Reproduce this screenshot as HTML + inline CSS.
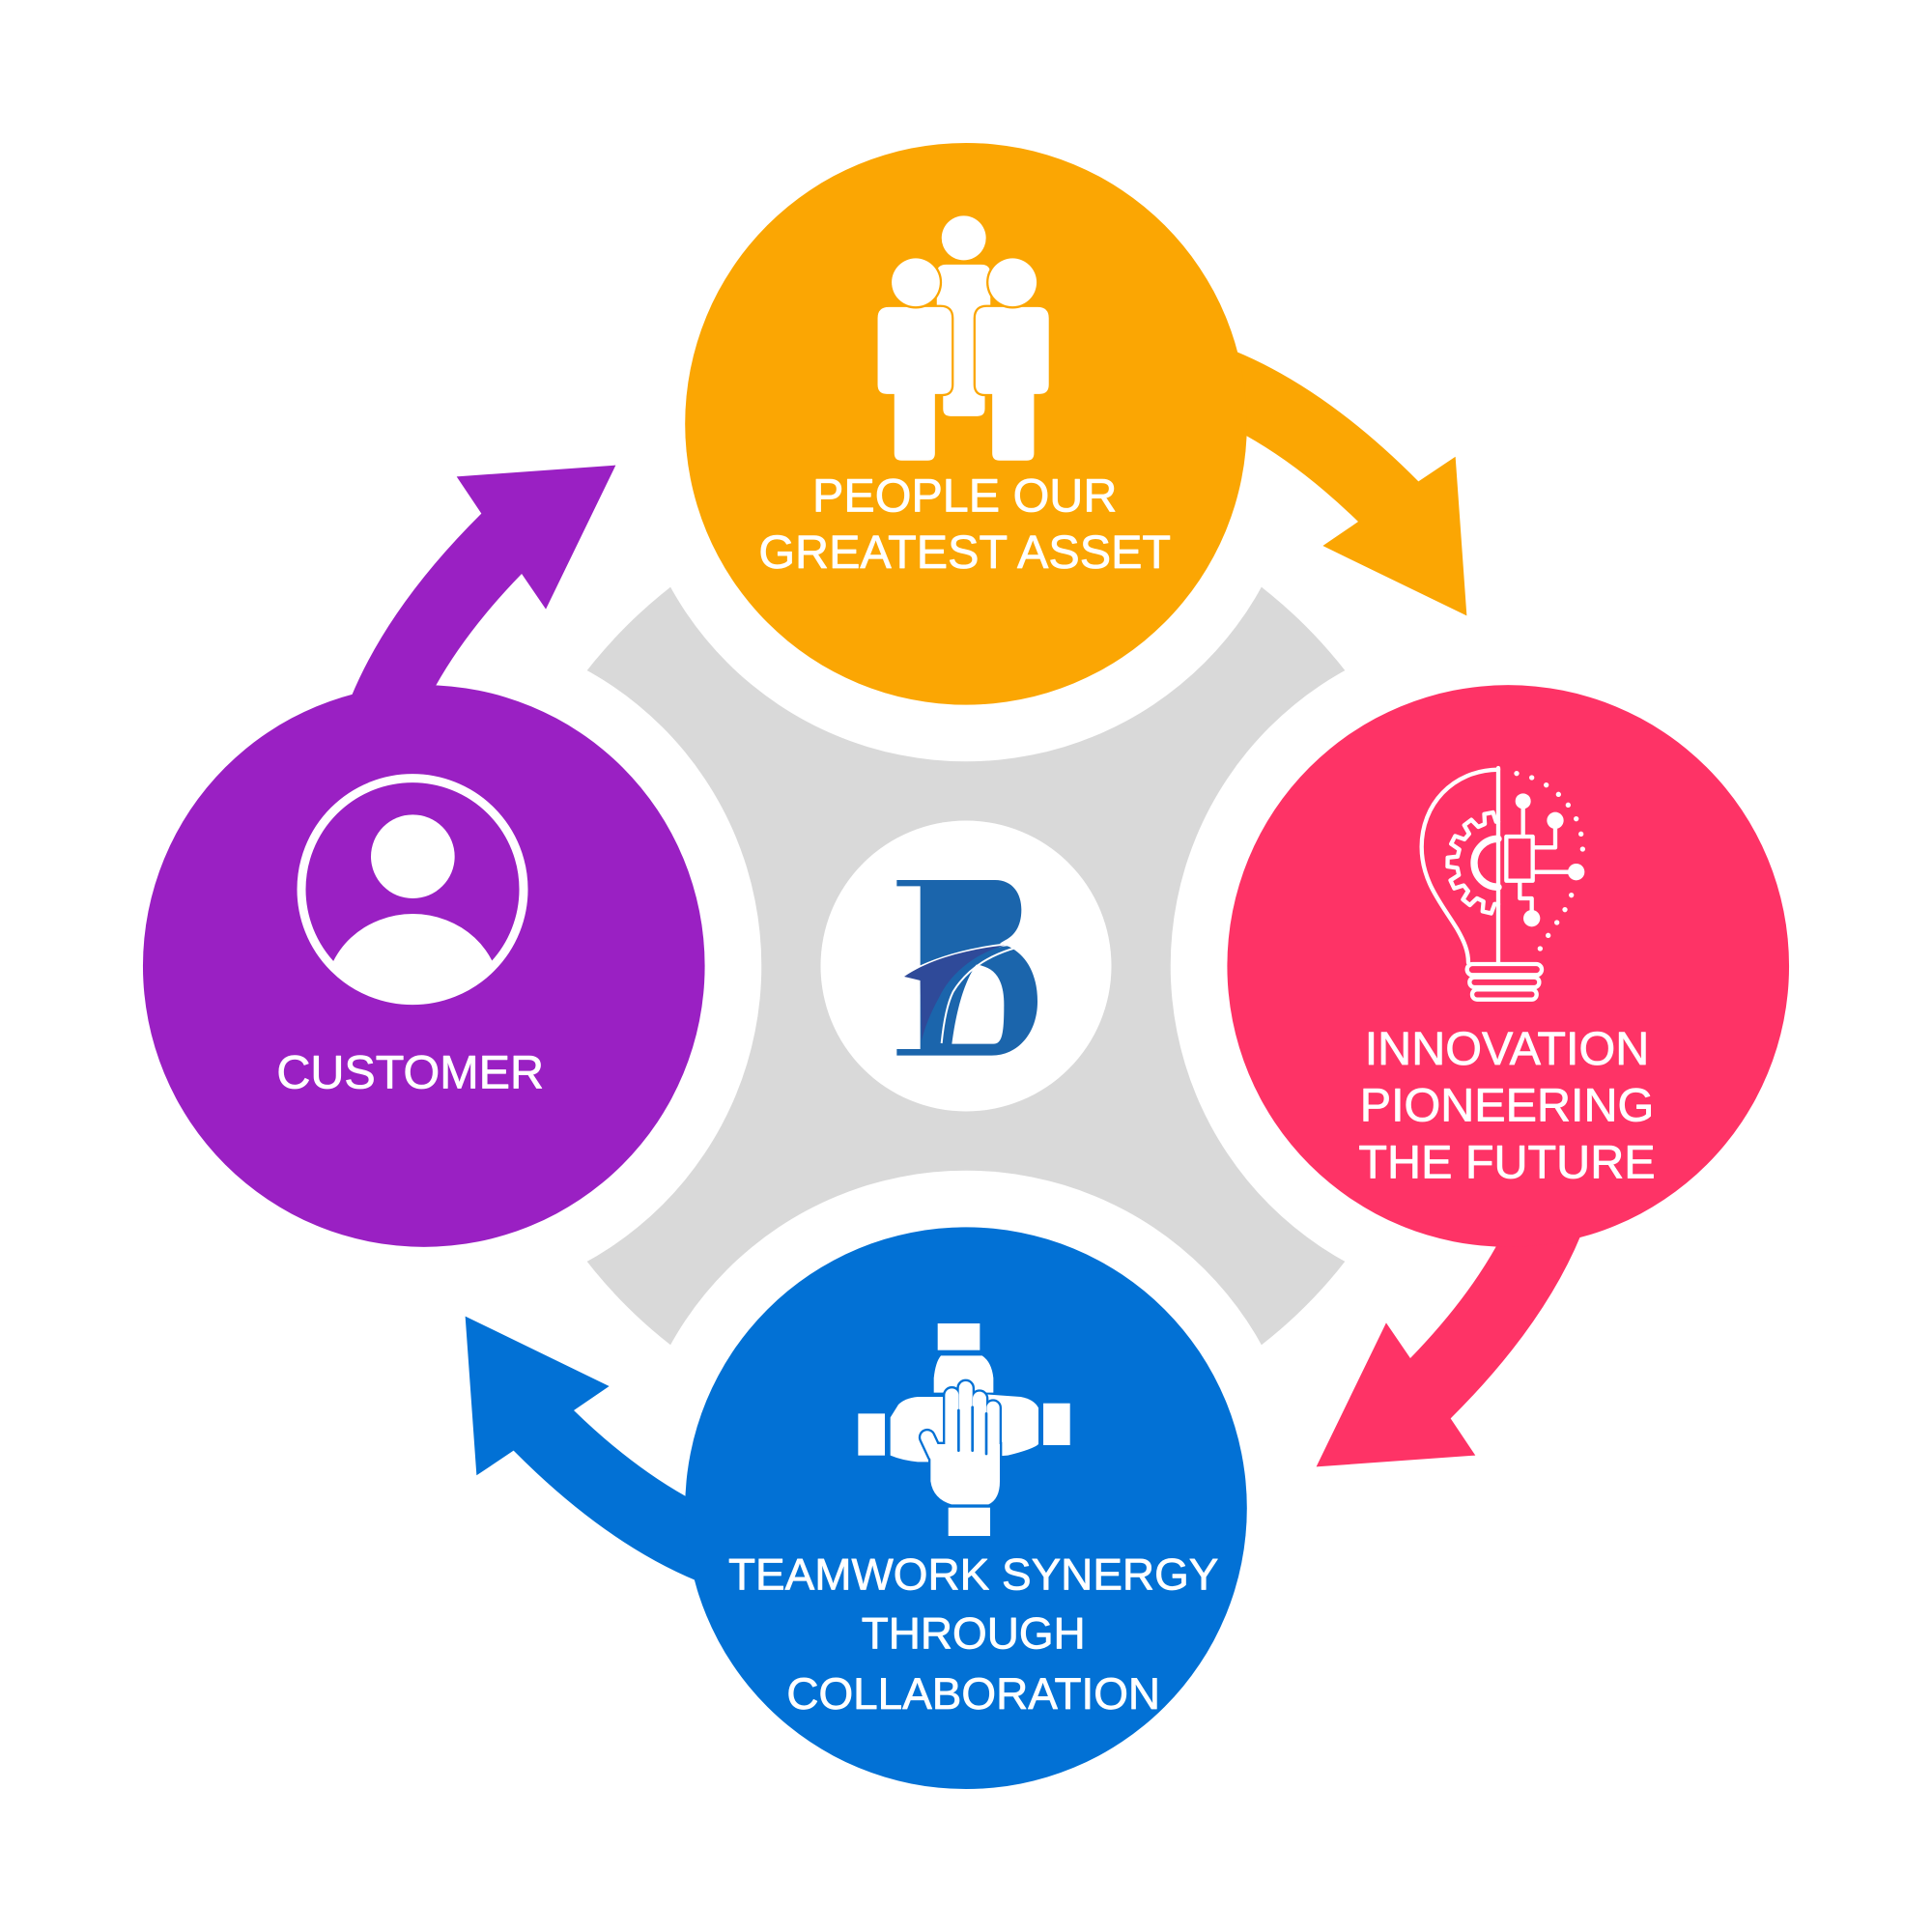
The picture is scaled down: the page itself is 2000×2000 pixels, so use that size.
<!DOCTYPE html>
<html>
<head>
<meta charset="utf-8">
<style>
html,body{margin:0;padding:0;background:#fff;}
.wrap{position:relative;width:2000px;height:2000px;}
svg{display:block;position:absolute;left:0;top:0;}
</style>
</head>
<body>
<div class="wrap">
<svg width="2000" height="2000" viewBox="0 0 1568 1568" xmlns="http://www.w3.org/2000/svg">
  <rect width="1568" height="1568" fill="#ffffff"/>

  <!-- gray background cross -->
  <circle cx="784" cy="784" r="390" fill="#D9D9D9"/>
  <g fill="#ffffff">
    <circle cx="784" cy="344" r="274"/>
    <circle cx="1224" cy="784" r="274"/>
    <circle cx="784" cy="1224" r="274"/>
    <circle cx="344" cy="784" r="274"/>
    <circle cx="784" cy="784" r="118"/>
  </g>

  <!-- arrows -->
  <path fill="#FBA603" d="M 985 280 L 1002.2 284.9 Q 1076.7 315.6 1151.2 390.7 L 1181.2 370.6 L 1190.4 499.7 L 1073.6 443.0 L 1102.3 423.4 Q 1056.6 378.9 1010.9 353.3 L 990 352 Z"/>
  <path fill="#FE3366" transform="rotate(90 784 784)" d="M 985 280 L 1002.2 284.9 Q 1076.7 315.6 1151.2 390.7 L 1181.2 370.6 L 1190.4 499.7 L 1073.6 443.0 L 1102.3 423.4 Q 1056.6 378.9 1010.9 353.3 L 990 352 Z"/>
  <path fill="#0271D5" transform="rotate(180 784 784)" d="M 985 280 L 1002.2 284.9 Q 1076.7 315.6 1151.2 390.7 L 1181.2 370.6 L 1190.4 499.7 L 1073.6 443.0 L 1102.3 423.4 Q 1056.6 378.9 1010.9 353.3 L 990 352 Z"/>
  <path fill="#9A20C3" transform="rotate(270 784 784)" d="M 985 280 L 1002.2 284.9 Q 1076.7 315.6 1151.2 390.7 L 1181.2 370.6 L 1190.4 499.7 L 1073.6 443.0 L 1102.3 423.4 Q 1056.6 378.9 1010.9 353.3 L 990 352 Z"/>

  <!-- main circles -->
  <circle cx="784" cy="344" r="228" fill="#FBA603"/>
  <circle cx="1224" cy="784" r="228" fill="#FE3366"/>
  <circle cx="784" cy="1224" r="228" fill="#0271D5"/>
  <circle cx="344" cy="784" r="228" fill="#9A20C3"/>

  <!-- center logo -->
  <g transform="translate(627.2,627.2) scale(0.26134)">
    <path fill="#1B65AC" d="M 385 333 L 690 333 C 745 333 772 375 772 425 C 772 480 748 508 718 522 L 705 530 C 778 548 822 615 822 710 C 822 810 760 878 680 878 L 385 878 L 385 858 L 458 858 L 458 352 L 385 352 Z"/>
    <path fill="#ffffff" d="M 632 596 C 600 640 572 720 556 842 L 685 842 C 712 842 718 810 718 720 C 718 645 692 603 632 596 Z"/>
    <path fill="none" stroke="#ffffff" stroke-width="9" d="M 400 634 C 500 572 650 532 826 526"/>
    <path fill="#2F4A99" d="M 408 633 C 485 580 600 548 720 536 C 625 562 550 625 515 700 C 490 745 472 790 462 832 L 458 645 L 438 640 Z"/>
    <path fill="none" stroke="#ffffff" stroke-width="6" d="M 826 528 C 700 548 612 595 560 680 C 540 720 530 780 524 840"/>
  </g>

  <!-- people icon (orange) -->
  <g transform="translate(548.8,109.76) scale(0.3)">
    <path fill="#ffffff" d="M 730 350 L 825 350 Q 850 350 850 375 L 850 700 L 835 700 L 835 740 Q 835 760 815 760 L 742 760 Q 722 760 722 740 L 722 700 L 705 700 L 705 375 Q 705 350 730 350 Z"/>
    <circle cx="778" cy="278" r="60" fill="#ffffff"/>
    <g fill="#ffffff" stroke="#FBA603" stroke-width="12" paint-order="stroke fill">
      <path d="M 575 465 L 715 465 Q 745 465 745 495 L 745 675 Q 745 700 720 700 L 700 700 L 700 860 Q 700 880 680 880 L 610 880 Q 590 880 590 860 L 590 700 L 570 700 Q 545 700 545 675 L 545 495 Q 545 465 575 465 Z"/>
      <path d="M 840 465 L 978 465 Q 1008 465 1008 495 L 1008 675 Q 1008 700 983 700 L 968 700 L 968 860 Q 968 880 948 880 L 875 880 Q 855 880 855 860 L 855 700 L 835 700 Q 810 700 810 675 L 810 495 Q 810 465 840 465 Z"/>
      <circle cx="648" cy="398" r="65"/>
      <circle cx="910" cy="398" r="65"/>
    </g>
  </g>

  <!-- lightbulb icon (pink) -->
  <g transform="translate(1128.96,611.52) scale(0.26134)" stroke-linecap="round" stroke-linejoin="round">
    <g fill="none" stroke="#ffffff" stroke-width="13">
      <path d="M 333 50 C 190 52 95 160 95 290 C 95 400 160 470 205 545 C 228 585 240 615 240 650"/>
      <path d="M 333 45 L 333 648"/>
      <path d="M 333 468 L 321.8 467.5 L 311 496.5 L 284.2 490.3 L 287.1 459.5 L 267.1 449.7 L 244.6 471 L 223.2 453.6 L 239.4 427.3 L 225.6 409.7 L 196.2 419 L 184.5 394 L 210.6 377.4 L 206 355.6 L 175.4 351 L 175.9 323.5 L 206.6 320 L 212 298.3 L 186.5 280.8 L 199 256.3 L 228.1 266.6 L 242.5 249.5 L 227.3 222.6 L 249.3 206 L 270.9 228.1 L 291.3 219 L 289.5 188.1 L 316.5 182.9 L 326.3 212.2 L 333 212"/>
      <rect x="358" y="258" width="82" height="137"/>
      <path d="M 410 170 L 410 258"/>
      <path d="M 510 233 L 510 292 L 440 292"/>
      <path d="M 440 368 L 552 368"/>
      <path d="M 400 395 L 400 450 L 437 450 L 437 490"/>
      <rect x="236" y="654" width="232" height="34" rx="17"/>
      <rect x="244" y="695" width="216" height="31" rx="15"/>
      <rect x="252" y="733" width="200" height="31" rx="15"/>
    </g>
    <path d="M 333 265 A 75 75 0 0 0 333 415" fill="none" stroke="#ffffff" stroke-width="22"/>
    <g fill="#ffffff">
      <circle cx="410" cy="148" r="24"/>
      <circle cx="510" cy="208" r="26"/>
      <circle cx="575" cy="368" r="26"/>
      <circle cx="437" cy="512" r="26"/>
      <circle cx="390" cy="62" r="8"/>
      <circle cx="437" cy="75" r="8"/>
      <circle cx="482" cy="98" r="8"/>
      <circle cx="520" cy="127" r="8"/>
      <circle cx="550" cy="160" r="8"/>
      <circle cx="575" cy="203" r="8"/>
      <circle cx="590" cy="250" r="8"/>
      <circle cx="595" cy="297" r="8"/>
      <circle cx="560" cy="440" r="8"/>
      <circle cx="540" cy="485" r="8"/>
      <circle cx="515" cy="525" r="8"/>
      <circle cx="488" cy="565" r="8"/>
      <circle cx="463" cy="606" r="8"/>
    </g>
  </g>

  <!-- hands icon (blue) -->
  <g transform="translate(682.09,1066.25) scale(0.26134)">
    <g fill="#ffffff">
      <rect x="302" y="30" width="131" height="83"/>
      <path d="M 312 130 L 440 130 Q 470 150 475 200 L 475 245 L 290 245 L 290 200 Q 295 150 312 130 Z"/>
      <rect x="55" y="310" width="83" height="130"/>
      <path d="M 155 322 L 180 282 Q 200 262 240 258 L 330 258 L 330 460 L 240 460 Q 190 455 155 440 Z"/>
      <rect x="630" y="278" width="83" height="130"/>
      <path d="M 615 292 Q 600 265 560 258 L 450 250 L 450 445 L 520 440 Q 600 420 615 405 Z"/>
      <rect x="335" y="602" width="130" height="88"/>
    </g>
    <g fill="#ffffff" stroke="#0271D5" stroke-width="14">
      <rect x="262" y="360" width="40" height="100" rx="20" transform="rotate(-25 284 410)"/>
      <rect x="325" y="232" width="42" height="220" rx="21"/>
      <rect x="368" y="210" width="42" height="240" rx="21"/>
      <rect x="411" y="242" width="42" height="210" rx="21"/>
      <rect x="454" y="272" width="40" height="200" rx="20"/>
      <path d="M 280 405 L 495 405 L 495 520 Q 495 575 460 592 L 345 592 Q 288 575 280 520 Z"/>
    </g>
    <g fill="#ffffff">
      <rect x="262" y="360" width="40" height="100" rx="20" transform="rotate(-25 284 410)"/>
      <rect x="325" y="232" width="42" height="220" rx="21"/>
      <rect x="368" y="210" width="42" height="240" rx="21"/>
      <rect x="411" y="242" width="42" height="210" rx="21"/>
      <rect x="454" y="272" width="40" height="200" rx="20"/>
      <path d="M 280 405 L 495 405 L 495 520 Q 495 575 460 592 L 345 592 Q 288 575 280 520 Z"/>
    </g>
    <g fill="none" stroke="#0271D5" stroke-width="8" stroke-linecap="round">
      <path d="M 367 300 L 367 425"/>
      <path d="M 410 290 L 410 425"/>
      <path d="M 453 310 L 453 435"/>
    </g>
  </g>

  <!-- person icon (purple) -->
  <g transform="translate(227.36,619.36) scale(0.26134)">
    <defs>
      <clipPath id="pclip"><circle cx="411" cy="392" r="340"/></clipPath>
    </defs>
    <circle cx="411" cy="392" r="345" fill="none" stroke="#ffffff" stroke-width="27"/>
    <circle cx="412" cy="290" r="130" fill="#ffffff"/>
    <ellipse cx="412" cy="722" rx="272" ry="254" fill="#ffffff" clip-path="url(#pclip)"/>
  </g>
</svg>

<!-- labels in unscaled pixel coordinates -->
<svg width="2000" height="2000" xmlns="http://www.w3.org/2000/svg">
  <g font-family="'Liberation Sans', Arial, sans-serif" fill="#ffffff" stroke="#ffffff" stroke-width="0.8" stroke-linejoin="round" text-anchor="middle" text-rendering="geometricPrecision">
    <text x="998.7" y="529.3" font-size="48.5">PEOPLE OUR</text>
    <text x="998.7" y="588.0" font-size="48.5">GREATEST ASSET</text>

    <text x="424.7" y="1126.3" font-size="48.5">CUSTOMER</text>

    <text x="1560" y="1102.0" font-size="48.5">INNOVATION</text>
    <text x="1560" y="1160.7" font-size="48.5">PIONEERING</text>
    <text x="1560" y="1219.4" font-size="48.5">THE FUTURE</text>

    <text x="1007.7" y="1645.4" font-size="45.9">TEAMWORK SYNERGY</text>
    <text x="1007.7" y="1706.6" font-size="45.9">THROUGH</text>
    <text x="1007.7" y="1769.1" font-size="45.9">COLLABORATION</text>
  </g>
</svg>
</div>
</body>
</html>
